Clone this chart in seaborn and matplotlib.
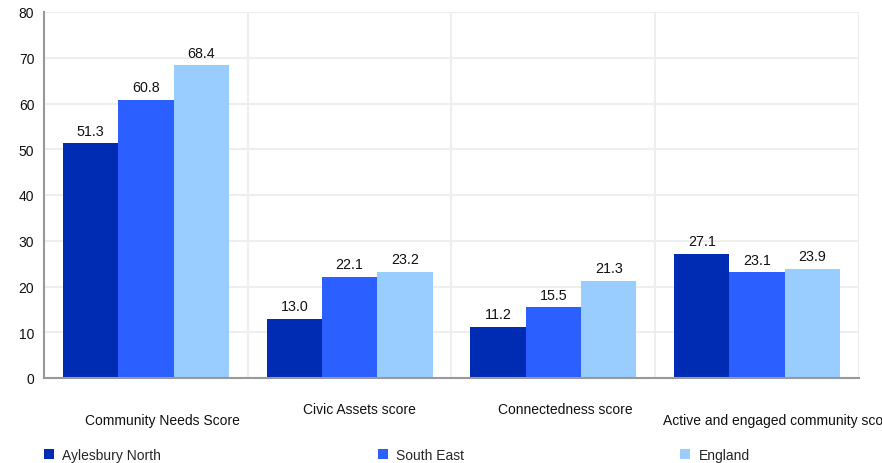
import matplotlib
matplotlib.use("Agg")
import matplotlib.pyplot as plt
import seaborn as sns
import pandas as pd

categories = ["Community Needs Score", "Civic Assets score", "Connectedness score",
              "Active and engaged community score"]
series = ["Aylesbury North", "South East", "England"]
aylesbury = [51.3, 13.0, 11.2, 27.1]
south_east = [60.8, 22.1, 15.5, 23.1]
england = [68.4, 23.2, 21.3, 23.9]
colors = ["#002BB3", "#2B5FFF", "#99CCFF"]

rows = []
for name, vals in zip(series, [aylesbury, south_east, england]):
    for c, v in zip(categories, vals):
        rows.append({"category": c, "series": name, "value": v})
df = pd.DataFrame(rows)

sns.set_theme(style="white")
plt.rcParams["font.family"] = ["Liberation Sans", "DejaVu Sans"]

fig = plt.figure(figsize=(8.82, 4.64), dpi=100)
ax = fig.add_axes([44 / 882, 1 - 379 / 464, 815 / 882, (379 - 13) / 464])

sns.barplot(data=df, x="category", y="value", hue="series", order=categories,
            hue_order=series, palette=colors, width=0.815, gap=0, saturation=1,
            linewidth=0, ax=ax, legend=True)

ax.set_ylim(0, 80)
ax.set_xlim(-0.5, len(categories) - 0.5)
ax.set_yticks(range(0, 81, 10))
ax.set_xticks([i - 0.5 for i in range(len(categories) + 1)])
ax.set_xticklabels([])
ax.set_xlabel("")
ax.set_ylabel("")
ax.grid(True, color="#eeeeee", linewidth=1.5)
ax.set_axisbelow(True)
for s in ["top", "right"]:
    ax.spines[s].set_visible(False)
for s in ["left", "bottom"]:
    ax.spines[s].set_color("#999999")
    ax.spines[s].set_linewidth(1.5)
ax.tick_params(axis="y", length=5, width=1.2, color="#999999", labelsize=10,
               labelcolor="#111111", pad=2)
ax.tick_params(axis="x", length=6, width=1.2, color="#999999")

for cont in ax.containers:
    ax.bar_label(cont, fmt="%.1f", padding=4, fontsize=10.3, color="#111111")

label_dx = [0.08, 0.047, 0.058, 0.11]
label_y = [-0.116, -0.085, -0.085, -0.116]
for i, (c, dx, oy) in enumerate(zip(categories, label_dx, label_y)):
    ax.text(i + dx, oy, c, ha="center", va="center", fontsize=10,
            color="#111111", transform=ax.get_xaxis_transform(), clip_on=False)

handles, labels = ax.get_legend_handles_labels()
ax.get_legend().remove()
fig.legend(handles, labels, loc="center left", bbox_to_anchor=(33 / 882, 1 - 456 / 464),
           ncol=3, frameon=False, fontsize=10, handlelength=0.72, handleheight=0.72,
           handletextpad=0.58, columnspacing=15.6, borderpad=0.3)

fig.savefig("out.png", dpi=100)
